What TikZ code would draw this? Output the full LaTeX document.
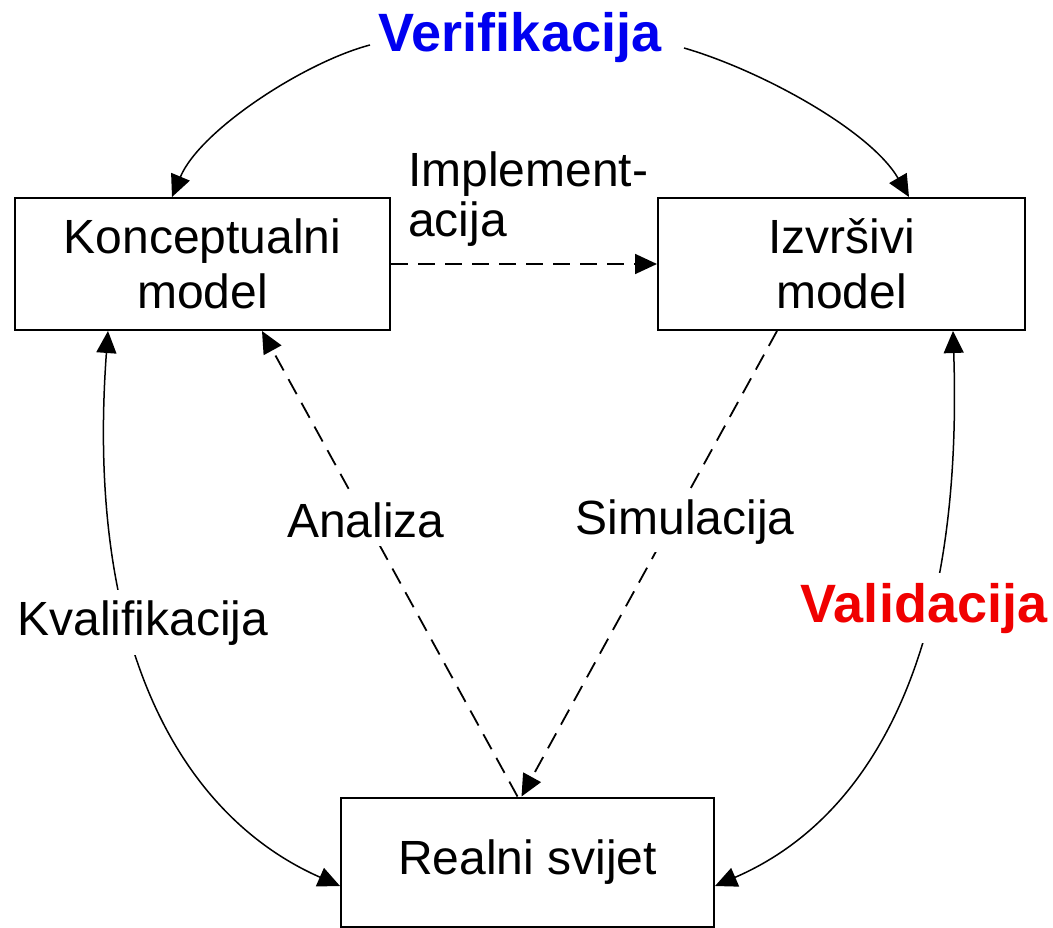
\documentclass[tikz,border=0pt]{standalone}
\usepackage{fontspec}
\setmainfont{Liberation Sans}
\usetikzlibrary{arrows.meta}
\definecolor{verblue}{RGB}{0,0,240}
\definecolor{valred}{RGB}{240,0,0}
\tikzset{
  box/.style={draw=black, line width=2pt, rectangle, align=center, inner sep=0pt,
              font=\fontsize{48}{55}\selectfont},
  tip/.style={-{Triangle[length=22pt,width=20pt]}},
  tips/.style={{Triangle[length=22pt,width=20pt]}-{Triangle[length=22pt,width=20pt]}},
  solidarc/.style={line width=1.5pt},
  dasharrow/.style={line width=1.8pt, dash pattern=on 17pt off 10pt},
  lbl/.style={font=\fontsize{48}{51}\selectfont, align=left, inner sep=0pt},
  biglbl/.style={font=\fontsize{54}{60}\selectfont\bfseries, inner sep=0pt}
}
\begin{document}
\begin{tikzpicture}[x=1pt,y=-1pt]
\useasboundingbox (0,0) rectangle (1053,928);
\fill[white] (0,0) rectangle (1053,928);

% boxes
\node[box, minimum width=375pt, minimum height=132pt] (K) at (202.5,264) {Konceptualni\\model};
\node[box, minimum width=367pt, minimum height=132pt] (I) at (841.5,264) {Izvršivi\\model};
\node[box, minimum width=373pt, minimum height=129pt] (R) at (527.5,862) {Realni svijet};

% top label
\node[biglbl, text=verblue, anchor=base] (ver) at (520,52) {Verifikacija};
\coordinate (v1) at (370,45);
\coordinate (v2) at (684,48);
\draw[solidarc, tip] (v1) .. controls (305,62) and (200,130) .. ([xshift=-30.5pt]K.north);
\draw[solidarc, tip] (v2) .. controls (760,70) and (870,130) .. ([xshift=67.5pt]I.north);

% Implementacija
\draw[dasharrow, tip] (K.east) -- (I.west);
\node[lbl, anchor=base west] (impl) at (408,237) {Implement-\\acija};

% Kvalifikacija
\draw[solidarc, tips] ([xshift=-94.5pt]K.south) .. controls (84,660) and (190,820) .. ([yshift=-24pt]R.west);
\node[lbl, fill=white, inner xsep=2pt, inner ysep=10pt, anchor=base] (kv) at (143,635) {Kvalifikacija};

% Validacija
\draw[solidarc, tips] ([xshift=111.5pt]I.south) .. controls (964,660) and (868,820) .. ([yshift=-24pt]R.east);
\node[biglbl, text=valred, fill=white, inner xsep=2pt, inner ysep=10pt, anchor=base] (val) at (924,622) {Validacija};

% Analiza
\draw[dasharrow, tip] ([xshift=-10pt]R.north) -- node[pos=0.593, lbl, fill=white, inner sep=8pt] (an) {Analiza} ([xshift=59.5pt]K.south);

% Simulacija
\draw[dasharrow, tip] ([xshift=-64.5pt]I.south) -- node[pos=0.41, lbl, fill=white, inner sep=8pt, xshift=13pt] (sim) {Simulacija} ([xshift=-6pt]R.north);
\end{tikzpicture}
\end{document}
